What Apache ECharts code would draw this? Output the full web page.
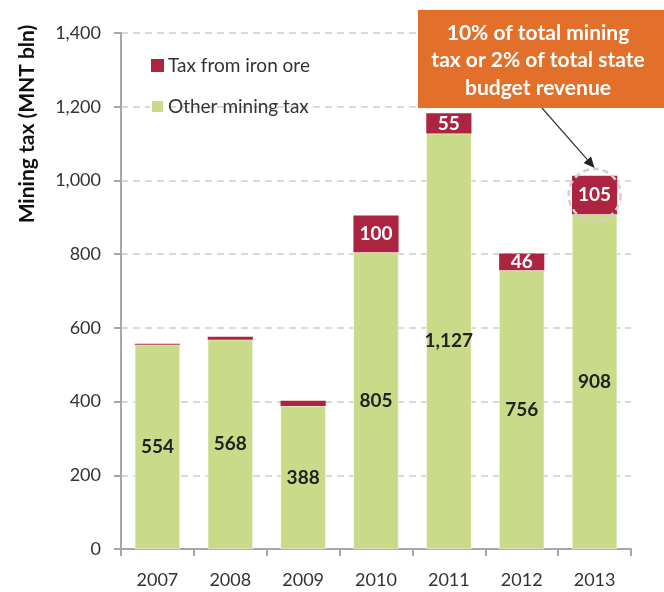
<!DOCTYPE html>
<html>
<head>
<meta charset="utf-8">
<script src="https://cdn.jsdelivr.net/npm/echarts@6/dist/echarts.min.js"></script>
<style>
  html, body { margin: 0; padding: 0; background: #fff; }
  #chart { width: 664px; height: 592px; }
</style>
</head>
<body>
<div id="chart"></div>
<script>
//////////Datos
var years = ['2007', '2008', '2009', '2010', '2011', '2012', '2013'];
var otherTax = [554, 568, 388, 805, 1127, 756, 908];
var ironTax = [3, 8, 14, 100, 55, 46, 105];
var yTicks = [0, 200, 400, 600, 800, 1000, 1200, 1400];
var noteLines = ['10% of total mining', 'tax or 2% of total state', 'budget revenue'];

var FONT = 'Lato, "Open Sans", sans-serif';
var GREEN = '#c9da89';
var RED = '#ad2440';
var ORANGE = '#e2702a';

function fmt(v) {
  return String(v).replace(/\B(?=(\d{3})+(?!\d))/g, ',');
}

var chart = echarts.init(document.getElementById('chart'));

var option = {
  animation: false,
  backgroundColor: '#fff',
  grid: { left: 121, right: 33, top: 33, bottom: 43 },
  legend: {
    orient: 'vertical',
    left: 145,
    top: 51,
    itemWidth: 13,
    itemHeight: 13,
    itemGap: 22,
    icon: 'rect',
    textStyle: { fontFamily: FONT, fontSize: 19, color: '#333', padding: [0, 0, 0, -1] },
    data: ['Tax from iron ore', 'Other mining tax']
  },
  xAxis: {
    type: 'category',
    data: years,
    axisLine: { lineStyle: { color: '#a6a6a6', width: 2 } },
    axisTick: { show: true, length: 7, lineStyle: { color: '#a6a6a6', width: 2 } },
    axisLabel: { fontFamily: FONT, fontSize: 18, color: '#333', margin: 22 }
  },
  yAxis: {
    type: 'value',
    min: yTicks[0],
    max: yTicks[yTicks.length - 1],
    interval: 200,
    axisLine: { show: true, lineStyle: { color: '#a6a6a6', width: 2 } },
    axisTick: { show: true, length: 7, lineStyle: { color: '#a6a6a6', width: 2 } },
    axisLabel: {
      fontFamily: FONT, fontSize: 18, color: '#333', margin: 20,
      formatter: function (v) { return fmt(v); }
    },
    splitLine: { lineStyle: { color: '#d9d9d9', width: 2, type: [7, 5] } }
  },
  series: [
    {
      name: 'Other mining tax',
      type: 'bar',
      stack: 'tax',
      barCategoryGap: '38%',
      data: otherTax,
      itemStyle: { color: GREEN, borderColor: '#fff', borderWidth: 0.5 },
      label: {
        show: true,
        position: 'inside',
        fontFamily: FONT,
        fontSize: 19,
        fontWeight: 'bold',
        color: '#222',
        formatter: function (p) { return fmt(p.value); }
      }
    },
    {
      name: 'Tax from iron ore',
      type: 'bar',
      stack: 'tax',
      barCategoryGap: '38%',
      data: ironTax,
      itemStyle: { color: RED },
      label: {
        show: true,
        position: 'inside',
        fontFamily: FONT,
        fontSize: 19,
        fontWeight: 'bold',
        color: '#fff',
        formatter: function (p) { return p.value >= 40 ? fmt(p.value) : ''; }
      }
    }
  ]
};

chart.setOption(option);

//////////Anotacion: circulo punteado, flecha y caja naranja
var last = years.length - 1;
var mid = otherTax[last] + ironTax[last] / 2;
var c = chart.convertToPixel({ seriesIndex: 1 }, [years[last], mid]);
var r = 26;
var boxX = 418, boxY = 10, boxW = 246, boxH = 98;
var start = [542, boxY + boxH];
var end = [c[0], c[1] - r - 1];
var ang = Math.atan2(end[1] - start[1], end[0] - start[0]);
var ah = 11, aw = 5;
var base = [end[0] - ah * Math.cos(ang), end[1] - ah * Math.sin(ang)];
var head = [
  end,
  [base[0] + aw * Math.sin(ang), base[1] - aw * Math.cos(ang)],
  [base[0] - aw * Math.sin(ang), base[1] + aw * Math.cos(ang)]
];

var graphics = [
  // titulo del eje Y, rotado
  {
    type: 'text',
    x: 27,
    y: 124,
    rotation: Math.PI / 2,
    style: {
      text: 'Mining tax (MNT bln)',
      fontFamily: FONT,
      fontSize: 21,
      fontWeight: 'bold',
      fill: '#111',
      align: 'center',
      verticalAlign: 'middle'
    }
  },
  {
    type: 'circle',
    shape: { cx: c[0], cy: c[1], r: r },
    style: { fill: 'none', stroke: '#d0d0d0', lineWidth: 2.5, lineDash: [6, 4] },
    z: 100
  },
  {
    type: 'line',
    shape: { x1: start[0], y1: start[1], x2: base[0], y2: base[1] },
    style: { stroke: '#333', lineWidth: 1.2 },
    z: 100
  },
  {
    type: 'polygon',
    shape: { points: head },
    style: { fill: '#222' },
    z: 100
  },
  {
    type: 'rect',
    shape: { x: boxX, y: boxY, width: boxW, height: boxH },
    style: { fill: ORANGE },
    z: 100
  }
];

for (var i = 0; i < noteLines.length; i++) {
  graphics.push({
    type: 'text',
    x: boxX + boxW / 2 - 3,
    y: boxY + 23 + i * 27.5,
    style: {
      text: noteLines[i],
      fontFamily: FONT,
      fontSize: 21,
      fontWeight: 'bold',
      fill: '#fff',
      align: 'center',
      verticalAlign: 'middle'
    },
    z: 101
  });
}

chart.setOption({ graphic: graphics });
</script>
</body>
</html>
